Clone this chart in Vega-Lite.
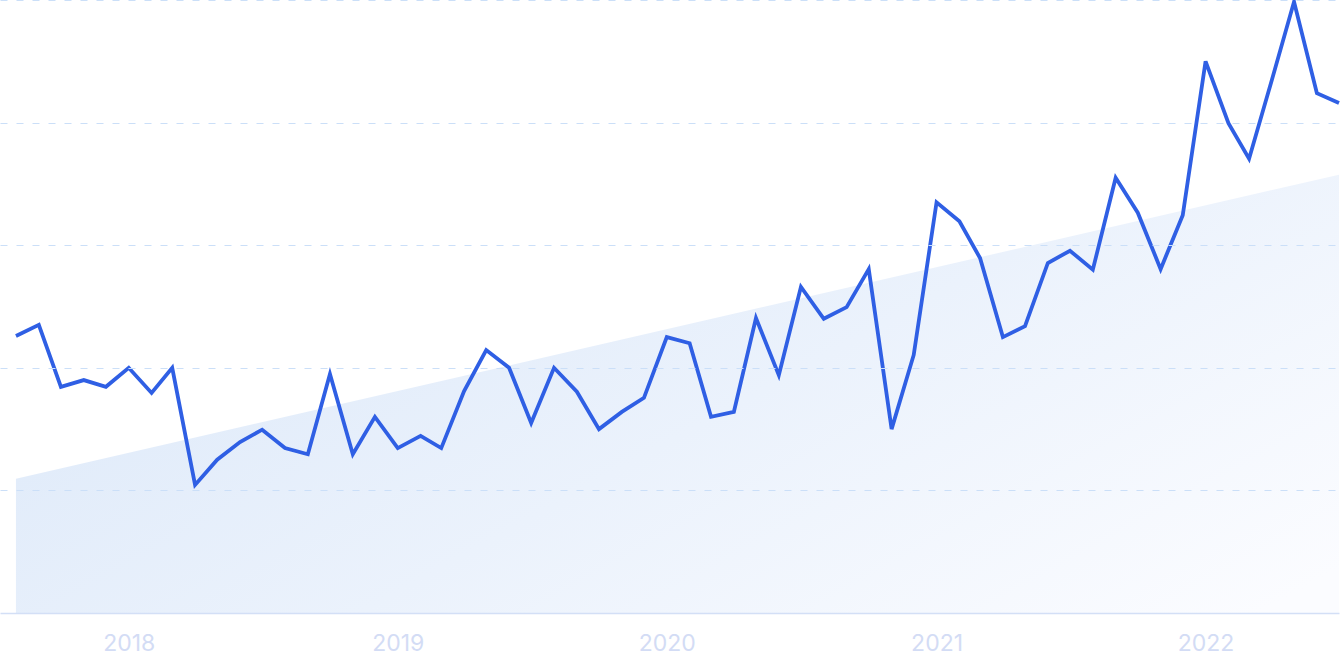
{
  "$schema": "https://vega.github.io/schema/vega-lite/v6.json",
  "width": 1339,
  "height": 613,
  "autosize": {"type": "none"},
  "padding": {"left": 0, "top": 0, "right": 4, "bottom": 58},
  "background": "white",
  "config": {
    "view": {"stroke": null},
    "font": "Inter"
  },
  "datasets": {
    "series": [
      {"month": "2017-08-01", "value": 45.2},
      {"month": "2017-09-01", "value": 47.0},
      {"month": "2017-10-01", "value": 36.9},
      {"month": "2017-11-01", "value": 38.0},
      {"month": "2017-12-01", "value": 36.9},
      {"month": "2018-01-01", "value": 40.0},
      {"month": "2018-02-01", "value": 35.9},
      {"month": "2018-03-01", "value": 40.0},
      {"month": "2018-04-01", "value": 20.9},
      {"month": "2018-05-01", "value": 25.0},
      {"month": "2018-06-01", "value": 27.9},
      {"month": "2018-07-01", "value": 29.9},
      {"month": "2018-08-01", "value": 26.9},
      {"month": "2018-09-01", "value": 25.9},
      {"month": "2018-10-01", "value": 39.0},
      {"month": "2018-11-01", "value": 25.9},
      {"month": "2018-12-01", "value": 32.0},
      {"month": "2019-01-01", "value": 26.9},
      {"month": "2019-02-01", "value": 28.9},
      {"month": "2019-03-01", "value": 26.9},
      {"month": "2019-04-01", "value": 36.2},
      {"month": "2019-05-01", "value": 42.9},
      {"month": "2019-06-01", "value": 40.0},
      {"month": "2019-07-01", "value": 31.0},
      {"month": "2019-08-01", "value": 40.0},
      {"month": "2019-09-01", "value": 36.1},
      {"month": "2019-10-01", "value": 30.0},
      {"month": "2019-11-01", "value": 32.8},
      {"month": "2019-12-01", "value": 35.1},
      {"month": "2020-01-01", "value": 45.0},
      {"month": "2020-02-01", "value": 44.0},
      {"month": "2020-03-01", "value": 32.0},
      {"month": "2020-04-01", "value": 32.8},
      {"month": "2020-05-01", "value": 48.1},
      {"month": "2020-06-01", "value": 38.8},
      {"month": "2020-07-01", "value": 53.2},
      {"month": "2020-08-01", "value": 48.0},
      {"month": "2020-09-01", "value": 49.9},
      {"month": "2020-10-01", "value": 56.1},
      {"month": "2020-11-01", "value": 30.0},
      {"month": "2020-12-01", "value": 42.1},
      {"month": "2021-01-01", "value": 67.0},
      {"month": "2021-02-01", "value": 63.9},
      {"month": "2021-03-01", "value": 57.9},
      {"month": "2021-04-01", "value": 45.0},
      {"month": "2021-05-01", "value": 46.8},
      {"month": "2021-06-01", "value": 57.1},
      {"month": "2021-07-01", "value": 59.1},
      {"month": "2021-08-01", "value": 56.0},
      {"month": "2021-09-01", "value": 71.0},
      {"month": "2021-10-01", "value": 65.3},
      {"month": "2021-11-01", "value": 56.1},
      {"month": "2021-12-01", "value": 64.9},
      {"month": "2022-01-01", "value": 90.0},
      {"month": "2022-02-01", "value": 79.9},
      {"month": "2022-03-01", "value": 74.1},
      {"month": "2022-04-01", "value": 87.0},
      {"month": "2022-05-01", "value": 99.7},
      {"month": "2022-06-01", "value": 84.8},
      {"month": "2022-07-01", "value": 83.2}
    ],
    "trend": [
      {"month": "2017-08-01", "value": 21.9},
      {"month": "2022-07-01", "value": 71.5}
    ]
  },
  "encoding": {
    "x": {
      "field": "month",
      "type": "temporal",
      "scale": {
        "type": "utc",
        "domain": [
          {"year": 2017, "month": 7, "date": 10, "hours": 8, "utc": true},
          {"year": 2022, "month": 7, "date": 1, "utc": true}
        ]
      },
      "axis": {
        "title": null,
        "format": "%Y",
        "values": [
          {"year": 2018, "month": 1, "date": 1, "utc": true},
          {"year": 2019, "month": 1, "date": 1, "utc": true},
          {"year": 2020, "month": 1, "date": 1, "utc": true},
          {"year": 2021, "month": 1, "date": 1, "utc": true},
          {"year": 2022, "month": 1, "date": 1, "utc": true}
        ],
        "ticks": false,
        "grid": false,
        "labelFont": "Inter",
        "labelFontSize": 23,
        "labelColor": "#d3dcf5",
        "labelPadding": 19,
        "labelFlush": false,
        "domainColor": "#d3dff6",
        "domainWidth": 1.5,
        "zindex": 1
      }
    },
    "y": {
      "field": "value",
      "type": "quantitative",
      "scale": {"domain": [0, 100], "nice": false, "zero": true},
      "axis": {
        "title": null,
        "labels": false,
        "ticks": false,
        "domain": false,
        "grid": true,
        "values": [20, 40, 60, 80, 100],
        "gridColor": "#cbdff8",
        "gridDash": [7, 9],
        "gridWidth": 1,
        "zindex": 1
      }
    }
  },
  "layer": [
    {
      "data": {"name": "trend"},
      "mark": {
        "type": "area",
        "fill": {
          "gradient": "linear",
          "x1": 0, "y1": 0.3, "x2": 1, "y2": 0.9,
          "stops": [
            {"offset": 0, "color": "#dde9f9"},
            {"offset": 0.5, "color": "#ebf2fc"},
            {"offset": 1, "color": "#fbfcff"}
          ]
        },
        "stroke": null
      }
    },
    {
      "data": {"name": "series"},
      "mark": {
        "type": "line",
        "color": "#2f5fe4",
        "strokeWidth": 3.8,
        "strokeJoin": "miter",
        "strokeCap": "butt"
      }
    }
  ]
}
